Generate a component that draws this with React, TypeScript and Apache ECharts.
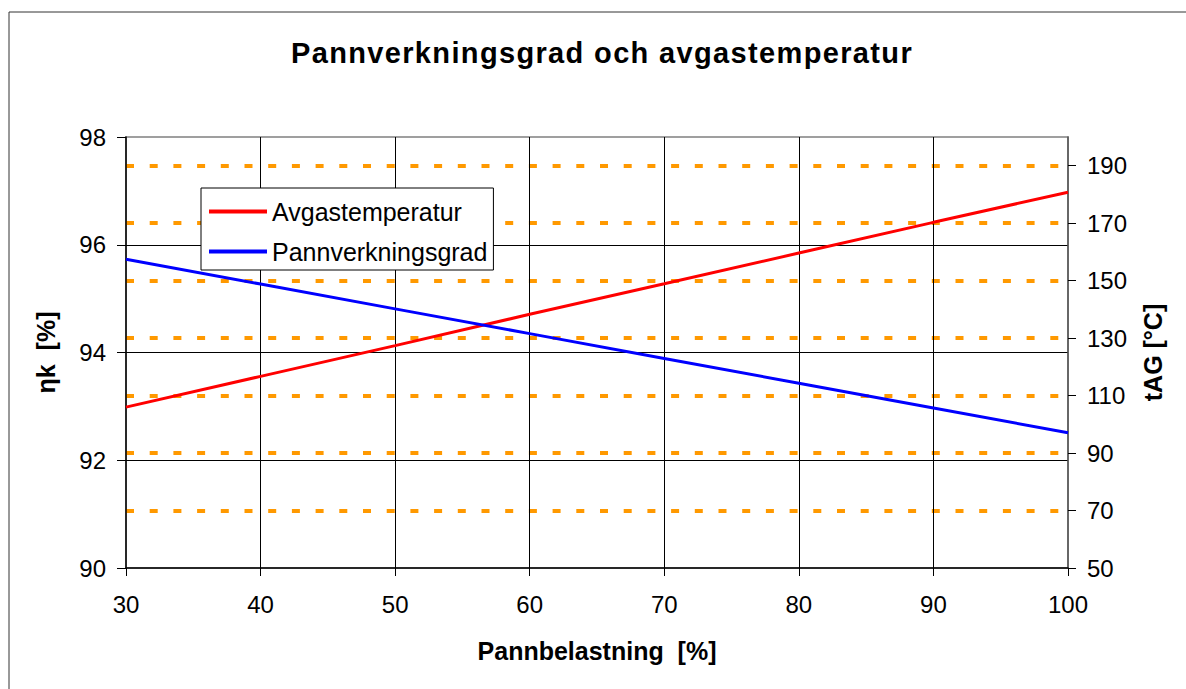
import React, { useEffect, useRef } from "react";
import * as echarts from "echarts";

const FONT = "'Liberation Sans', Arial, sans-serif";

const titleText = "Pannverkningsgrad och avgastemperatur";
const xName = "Pannbelastning  [%]";
const leftName = "ηk  [%]";
const rightName = "tAG [°C]";

// X axis: Pannbelastning [%]
const xValues = [30, 40, 50, 60, 70, 80, 90, 100];
// Right axis (°C) – Avgastemperatur
const avgastemperatur = [106, 116.7, 127.4, 138.3, 148.9, 159.6, 170.3, 180.8];
// Left axis (%) – Pannverkningsgrad
const pannverkningsgrad = [95.73, 95.27, 94.81, 94.35, 93.89, 93.43, 92.97, 92.51];

const xTicks = [30, 40, 50, 60, 70, 80, 90, 100];
const leftTicks = [90, 92, 94, 96, 98];
const rightTicks = [50, 70, 90, 110, 130, 150, 170, 190];
const rightMax = 200;

export default function App() {
  const ref = useRef<HTMLDivElement>(null);

  useEffect(() => {
    if (!ref.current) return;
    const chart = echarts.init(ref.current, null, { renderer: "svg" });
    const axisLabelStyle = { fontSize: 24, color: "#000", fontFamily: FONT };
    const nameStyle = { fontSize: 25, fontWeight: "bold", color: "#000", fontFamily: FONT };
    const option: any = {
      animation: false,
      backgroundColor: "#fff",
      textStyle: { fontFamily: FONT },
      title: {
        text: titleText,
        left: 602,
        top: 38,
        padding: 0,
        textAlign: "center",
        textStyle: { fontSize: 29, fontWeight: "bold", color: "#000", fontFamily: FONT },
      },
      graphic: [
        {
          type: "rect",
          silent: true,
          z: 100,
          shape: { x: 9, y: 12, width: 1400, height: 900 },
          style: { fill: "none", stroke: "#333", lineWidth: 1 },
        },
      ],
      legend: {
        orient: "vertical",
        left: 201,
        top: 188,
        padding: [11, 6, 6, 8],
        itemGap: 15,
        itemWidth: 58,
        itemHeight: 4,
        icon: "rect",
        backgroundColor: "#fff",
        borderColor: "#000",
        borderWidth: 1,
        borderRadius: 0,
        data: ["Avgastemperatur", "Pannverkningsgrad"],
        textStyle: { fontSize: 25, color: "#000", fontFamily: FONT },
        z: 10,
      },
      grid: {
        left: 126,
        top: 137,
        right: 118,
        bottom: 121,
        show: true,
        borderColor: "#808080",
        borderWidth: 1.5,
        backgroundColor: "#fff",
      },
      xAxis: {
        type: "value",
        min: xTicks[0],
        max: xTicks[xTicks.length - 1],
        interval: xTicks[1] - xTicks[0],
        name: xName,
        nameLocation: "middle",
        nameGap: 70,
        nameTextStyle: nameStyle,
        axisLine: { lineStyle: { color: "#000", width: 1.5 } },
        axisTick: { length: 8, lineStyle: { color: "#000" } },
        axisLabel: { ...axisLabelStyle, margin: 24 },
        splitLine: { show: true, showMinLine: false, showMaxLine: false, lineStyle: { color: "#000", width: 1 } },
      },
      yAxis: [
        {
          type: "value",
          position: "left",
          min: leftTicks[0],
          max: leftTicks[leftTicks.length - 1],
          interval: leftTicks[1] - leftTicks[0],
          name: leftName,
          nameLocation: "middle",
          nameGap: 68,
          nameTextStyle: nameStyle,
          axisLine: { show: true, lineStyle: { color: "#000", width: 1.5 } },
          axisTick: { show: true, length: 9, lineStyle: { color: "#000" } },
          axisLabel: { ...axisLabelStyle, margin: 20 },
          splitLine: { show: true, showMinLine: false, showMaxLine: false, lineStyle: { color: "#000", width: 1 } },
        },
        {
          type: "value",
          position: "right",
          min: rightTicks[0],
          max: rightMax,
          interval: rightTicks[1] - rightTicks[0],
          name: rightName,
          nameLocation: "middle",
          nameGap: 72,
          nameTextStyle: nameStyle,
          axisLine: { show: true, lineStyle: { color: "#555", width: 1.5 } },
          axisTick: { show: true, length: 8, lineStyle: { color: "#000" }, customValues: rightTicks },
          axisLabel: { ...axisLabelStyle, margin: 19, customValues: rightTicks },
          splitLine: {
            show: true,
            showMinLine: false,
            showMaxLine: true,
            lineStyle: { color: "#FF9900", width: 4, type: [8, 15.7] },
          },
        },
      ],
      series: [
        {
          name: "Avgastemperatur",
          type: "line",
          yAxisIndex: 1,
          symbol: "none",
          lineStyle: { color: "#FF0000", width: 3 },
          itemStyle: { color: "#FF0000" },
          data: xValues.map((x, i) => [x, avgastemperatur[i]]),
          z: 3,
        },
        {
          name: "Pannverkningsgrad",
          type: "line",
          yAxisIndex: 0,
          symbol: "none",
          lineStyle: { color: "#0000FF", width: 3 },
          itemStyle: { color: "#0000FF" },
          data: xValues.map((x, i) => [x, pannverkningsgrad[i]]),
          z: 3,
        },
      ],
    };
    chart.setOption(option);
    return () => chart.dispose();
  }, []);

  return (
    <div>
      <style>{"body{margin:0;overflow:hidden} #chart text[style*='29px']{letter-spacing:1.35px}"}</style>
      <div id="chart" ref={ref} style={{ width: 1186, height: 689 }} />
    </div>
  );
}
